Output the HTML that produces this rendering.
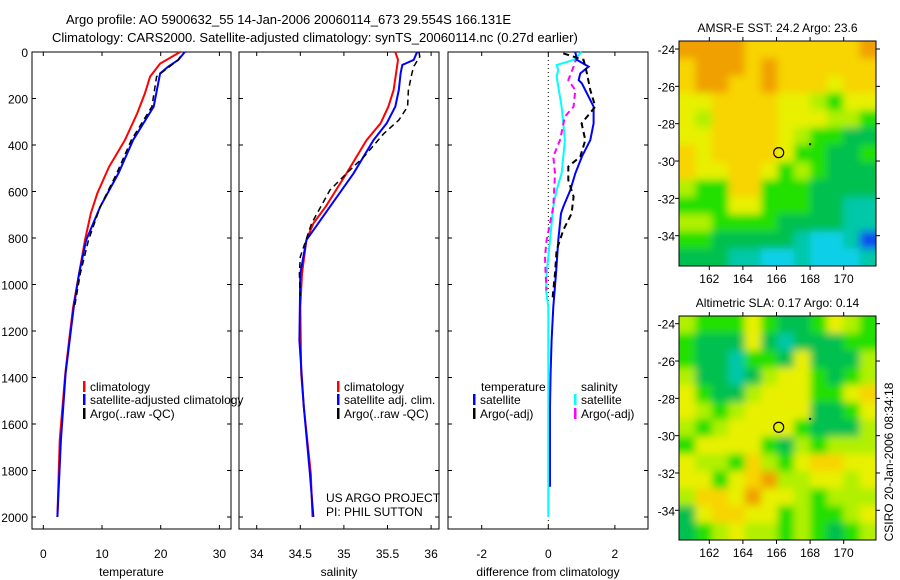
<!DOCTYPE html>
<html><head><meta charset="utf-8"><style>
html,body{margin:0;padding:0;background:#fff;}
svg{display:block;font-family:"Liberation Sans",sans-serif;}
</style></head><body>
<svg id="fig" width="900" height="580" viewBox="0 0 900 580" xmlns="http://www.w3.org/2000/svg">
<defs>
<filter id="blur" filterUnits="userSpaceOnUse" x="640" y="0" width="260" height="580"><feGaussianBlur stdDeviation="4"/></filter>
<clipPath id="clipm1"><rect x="679" y="41" width="197" height="225"/></clipPath>
<clipPath id="clipm2"><rect x="679" y="316" width="197" height="224"/></clipPath>
</defs>
<text x="66" y="24" font-size="13">Argo profile: AO 5900632_55 14-Jan-2006 20060114_673 29.554S 166.131E</text>
<text x="52" y="42" font-size="13">Climatology: CARS2000. Satellite-adjusted climatology: synTS_20060114.nc (0.27d earlier)</text>
<g id="layer"></g>
</svg>
<script>
// ---------- data ----------
const depthTicks=[0,200,400,600,800,1000,1200,1400,1600,1800,2000];
const tempTicks=[0,10,20,30];
const salTicks=[34,34.5,35,35.5,36];
const salTickLabels=["34","34.5","35","35.5","36"];
const diffTicks=[-2,0,2];
const tempClimD=[0,50,106,178,264,379,494,608,694,809,953,1096,1240,1383,1670,2000];
const tempClimV=[23.3,19.9,18.2,17.3,16,13.9,11.2,9.2,8.1,7.1,6.1,5.1,4.4,3.75,2.8,2.4];
const tempSatD=[0,34,63,92,235,379,522,666,809,953,1096,1383,1670,2000];
const tempSatV=[24.1,23,21.3,19.9,18.8,15.3,12.8,9.7,7.3,6.1,5.2,3.8,3.0,2.4];
const tempArgoD=[20,34,106,235,379,522,666,809,953,1100];
const tempArgoV=[23.3,23,19.3,18.5,15,12.5,9.7,7.7,6.3,5.3];
const salClimD=[0,34,164,235,307,379,522,666,737,809,953,1096,1383,1526,1670,1813,2000];
const salClimV=[35.59,35.62,35.57,35.51,35.42,35.26,35.03,34.79,34.65,34.57,34.52,34.5,34.51,34.54,34.58,34.62,34.64];
const salSatD=[0,34,56,92,164,235,307,379,522,666,809,953,1240,1526,1813,2000];
const salSatV=[35.84,35.8,35.67,35.65,35.63,35.59,35.49,35.34,35.11,34.84,34.57,34.5,34.49,34.54,34.61,34.65];
const salArgoD=[0,20,63,92,164,235,293,350,450,522,594,737,881,953,1050];
const salArgoV=[35.86,35.87,35.8,35.78,35.74,35.73,35.63,35.46,35.23,35.03,34.84,34.63,34.5,34.49,34.5];
const dTempSatD=[0,34,63,92,121,135,235,307,379,450,522,594,666,694,809,953,1096,1240,1383,1526,1870];
const dTempSatV=[0.81,0.86,1.21,0.96,0.91,1.01,1.36,1.36,1.26,1.01,0.81,0.66,0.45,0.38,0.3,0.23,0.15,0.1,0.07,0.05,0.05];
const dTempArgoD=[6,34,63,92,164,235,307,379,450,493,551,622,694,766,852,953,1025,1070];
const dTempArgoV=[0.45,1.06,1.11,1.16,1.26,1.41,1.0,1.11,0.96,0.6,0.6,0.76,0.7,0.45,0.25,0.2,0.15,0.12];
const dSalSatD=[0,34,56,77,106,235,379,450,522,594,666,809,953,1025,1096,1383,2000];
const dSalSatV=[1.0,0.76,0.25,0.3,0.25,0.4,0.5,0.45,0.4,0.25,0.15,0.05,-0.05,-0.07,0,0,0];
const dSalArgoD=[20,63,121,164,235,278,379,450,522,666,737,809,881,953,1025];
const dSalArgoV=[0.86,0.76,0.6,0.81,0.76,0.5,0.35,0.15,0.2,0.15,0.05,-0.05,-0.1,-0.08,-0.05];
const lonTicks=[162,164,166,168,170];
const latTicks=[-24,-26,-28,-30,-32,-34];
const palette=["#0a4cf0","#10d0e8","#00c8a8","#00c050","#20e000","#b0f000","#e8f000","#f8d400","#f0a000"];
const sstGrid=[
[8,8,8,8,7,7,7,7,7,7,7,8],
[7,8,8,8,7,8,7,7,7,7,7,7],
[7,8,8,7,7,8,7,7,7,6,7,7],
[6,6,7,7,7,7,6,6,5,4,6,6],
[6,5,7,7,7,7,6,6,6,5,5,4],
[6,6,7,7,7,7,6,5,4,4,3,3],
[7,6,7,7,7,7,6,4,4,3,3,4],
[7,6,6,7,7,6,4,5,4,3,3,3],
[5,4,4,7,7,4,4,4,3,3,3,3],
[4,4,4,6,6,4,4,4,3,3,2,2],
[5,5,4,4,4,4,3,3,3,3,2,2],
[4,4,3,3,3,3,3,2,1,1,2,0],
[3,3,3,2,2,1,1,2,1,1,1,2]];
const slaGrid=[
[5,4,4,4,6,4,3,3,4,6,5,4],
[4,3,3,3,6,3,2,3,3,3,4,4],
[4,3,3,2,4,4,3,6,3,3,3,5],
[5,3,3,2,3,5,6,6,4,3,4,5],
[6,4,3,3,5,6,6,6,4,4,6,7],
[6,5,4,5,6,6,6,6,3,3,4,6],
[5,4,5,6,6,6,6,4,3,3,3,5],
[4,6,6,6,6,4,3,5,4,5,5,5],
[6,5,5,4,7,5,4,6,7,7,6,6],
[6,6,4,6,7,8,5,5,6,6,5,6],
[5,7,7,6,8,6,6,5,4,5,5,5],
[3,6,7,7,6,6,4,5,4,4,5,6],
[3,4,5,6,5,5,4,5,4,3,4,5]];
const argoPos=[166.13,-29.55];
const nearPos=[168,-29.1];

// ---------- helpers ----------
const NS="http://www.w3.org/2000/svg";
const layer=document.getElementById('layer');
function mk(tag,attrs,parent){const e=document.createElementNS(NS,tag);for(const k in attrs)e.setAttribute(k,attrs[k]);(parent||layer).appendChild(e);return e;}
const yD=d=>52+d*465/2000;
const xT=t=>43.3+t*5.87;
const xS=s=>256.7+(s-34)*87.2;
const xDf=v=>548.3+v*33.3;
function poly(D,V,xf,color,w,dash,name){
  const p=mk('polyline',{points:D.map((d,i)=>xf(V[i]).toFixed(1)+','+yD(d).toFixed(1)).join(' '),fill:'none',stroke:color,'stroke-width':w});
  if(dash)p.setAttribute('stroke-dasharray',dash);
  
  
}
function frame(x0,x1,y0,y1,name){
  const r=mk('rect',{x:x0,y:y0,width:x1-x0,height:y1-y0,fill:'none',stroke:'#000','stroke-width':1});
  
  
}
function txt(x,y,s,size,anchor,name){
  const t=mk('text',{x:x,y:y,'font-size':size,'text-anchor':anchor||'start'});
  t.textContent=s;
  
  
  return t;
}
function profileFrame(x0,x1,name,ticks,labels,xf,xlabel,showY){
  frame(x0,x1,52,529,name);
  depthTicks.forEach(d=>{
    mk('line',{x1:x0,x2:x0+4,y1:yD(d),y2:yD(d),stroke:'#000'});
    mk('line',{x1:x1,x2:x1-4,y1:yD(d),y2:yD(d),stroke:'#000'});
    if(showY) txt(x0-4,yD(d)+5,String(d),12,'end','y-tick-label');
  });
  ticks.forEach((t,i)=>{
    const x=xf(t);
    mk('line',{x1:x,x2:x,y1:529,y2:525,stroke:'#000'});
    mk('line',{x1:x,x2:x,y1:52,y2:56,stroke:'#000'});
    txt(x,558,labels[i],12,'middle','x-tick-label');
  });
  txt((x0+x1)/2,576,xlabel,12,'middle','x-axis-title');
}
// ---------- panels ----------
profileFrame(32,231,'temperature-panel',tempTicks,tempTicks.map(String),xT,'temperature',true);
poly(tempClimD,tempClimV,xT,'#f00',2,null,'temp-climatology-line');
poly(tempSatD,tempSatV,xT,'#00f',2,null,'temp-satellite-line');
poly(tempArgoD,tempArgoV,xT,'#000',1.5,'6,4','temp-argo-line');

profileFrame(239,439,'salinity-panel',salTicks,salTickLabels,xS,'salinity',false);
poly(salClimD,salClimV,xS,'#f00',2,null,'sal-climatology-line');
poly(salSatD,salSatV,xS,'#00f',2,null,'sal-satellite-line');
poly(salArgoD,salArgoV,xS,'#000',1.5,'6,4','sal-argo-line');

profileFrame(448,648,'difference-panel',diffTicks,diffTicks.map(String),xDf,'difference from climatology',false);
mk('line',{x1:xDf(0),x2:xDf(0),y1:52,y2:529,stroke:'#000','stroke-dasharray':'1,3','stroke-width':1});
poly(dSalSatD,dSalSatV,xDf,'#0ff',2,null,'diff-sal-satellite-line');
poly(dSalArgoD,dSalArgoV,xDf,'#f0f',2,'6,4','diff-sal-argo-line');
poly(dTempSatD,dTempSatV,xDf,'#00f',2,null,'diff-temp-satellite-line');
poly(dTempArgoD,dTempArgoV,xDf,'#000',2,'6,4','diff-temp-argo-line');

// legends
function legEntry(x,y,color,label,name){
  const g=mk('g',{});
  
  
  mk('rect',{x:x,y:y-10,width:2.5,height:11,fill:color},g);
  const t=mk('text',{x:x+7,y:y,'font-size':12},g);t.textContent=label;
}
legEntry(83,391,'#f00','climatology','legend-temp-climatology');
legEntry(83,404,'#00f','satellite-adjusted climatology','legend-temp-satellite');
legEntry(83,418,'#000','Argo(..raw -QC)','legend-temp-argo');
legEntry(337,391,'#f00','climatology','legend-sal-climatology');
legEntry(337,404,'#00f','satellite adj. clim.','legend-sal-satellite');
legEntry(337,418,'#000','Argo(..raw -QC)','legend-sal-argo');
txt(481,391,'temperature',12,'start','legend-temperature-header');
legEntry(473,404,'#00f','satellite','legend-diff-temp-satellite');
legEntry(473,418,'#000','Argo(-adj)','legend-diff-temp-argo');
txt(581,391,'salinity',12,'start','legend-salinity-header');
legEntry(574,404,'#0ff','satellite','legend-diff-sal-satellite');
legEntry(574,418,'#f0f','Argo(-adj)','legend-diff-sal-argo');
txt(326,502,'US ARGO PROJECT',12,'start','project-credit');
txt(326,516,'PI: PHIL SUTTON',12,'start','pi-credit');
// ---------- maps ----------
function map(y0,y1,lat24,lat34,grid,title,name){
  const x0=679,x1=876;
  const xL=l=>709.3+(l-162)*16.8;
  const yL=la=>lat24+(-24-la)*(lat34-lat24)/10;
  const g=mk('g',{'clip-path':'url(#'+(name==='sst-map'?'clipm1':'clipm2')+')'});
  
  
  const inner=mk('g',{filter:'url(#blur)'},g);
  const rows=grid.length,cols=grid[0].length;
  const cw=(x1-x0)/cols,ch=(y1-y0)/rows;
  for(let r=-1;r<=rows;r++)for(let c=-1;c<=cols;c++){
    const rr=Math.min(rows-1,Math.max(0,r)),cc=Math.min(cols-1,Math.max(0,c));
    const cell=mk('rect',{x:(x0+c*cw).toFixed(1),y:(y0+r*ch).toFixed(1),width:(cw+0.6).toFixed(1),height:(ch+0.6).toFixed(1),fill:palette[grid[rr][cc]]},inner);
    
    
  }
  frame(x0,x1,y0,y1,name+'-frame');
  lonTicks.forEach(l=>{
    mk('line',{x1:xL(l),x2:xL(l),y1:y1,y2:y1+4,stroke:'#000'});
    mk('line',{x1:xL(l),x2:xL(l),y1:y0,y2:y0-4,stroke:'#000'});
    txt(xL(l),y1+17,String(l),12,'middle','map-lon-label');
  });
  latTicks.forEach(la=>{
    mk('line',{x1:x0,x2:x0-4,y1:yL(la),y2:yL(la),stroke:'#000'});
    mk('line',{x1:x1,x2:x1+4,y1:yL(la),y2:yL(la),stroke:'#000'});
    txt(x0-4,yL(la)+5,String(la),12,'end','map-lat-label');
  });
  const c=mk('circle',{cx:xL(argoPos[0]),cy:yL(argoPos[1]),r:5,fill:'none',stroke:'#000','stroke-width':1.2});
  
  
  mk('rect',{x:xL(nearPos[0])-1,y:yL(nearPos[1])-1,width:2,height:2,fill:'#000'});
  txt((x0+x1)/2,y0-9,title,12,'middle',name+'-title');
}
map(41,266,49,235.7,sstGrid,'AMSR-E SST: 24.2 Argo: 23.6','sst-map');
map(316,540,323.7,510.3,slaGrid,'Altimetric SLA: 0.17 Argo: 0.14','sla-map');
const side=txt(0,0,'CSIRO 20-Jan-2006 08:34:18',12,'middle','timestamp-label');
side.setAttribute('transform','translate(893,462) rotate(-90)');
</script>
</body></html>
